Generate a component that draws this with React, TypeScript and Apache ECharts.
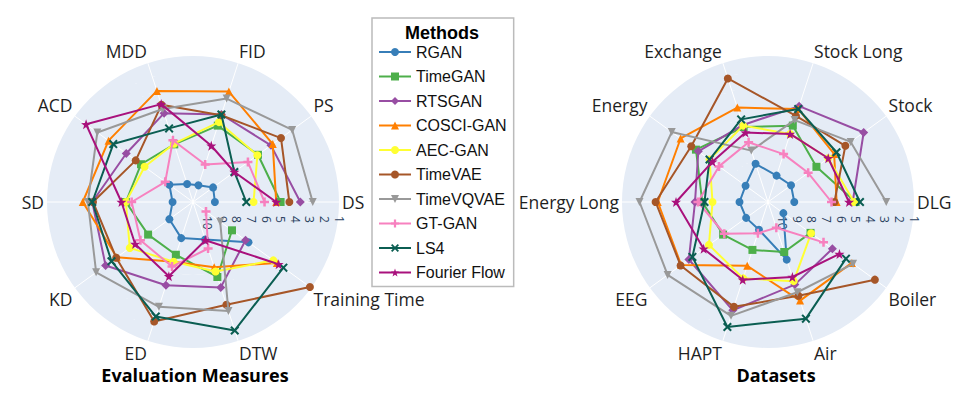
import React, { useEffect, useRef } from 'react';
import * as echarts from 'echarts';

const MEASURES = ['DS', 'PS', 'FID', 'MDD', 'ACD', 'SD', 'KD', 'ED', 'DTW', 'Training Time'];
const DATASETS = ['DLG', 'Stock', 'Stock Long', 'Exchange', 'Energy', 'Energy Long', 'EEG', 'HAPT', 'Air', 'Boiler'];
const METHODS = ['RGAN', 'TimeGAN', 'RTSGAN', 'COSCI-GAN', 'AEC-GAN', 'TimeVAE', 'TimeVQVAE', 'GT-GAN', 'LS4', 'Fourier Flow'];
const COLORS = ['#377eb8', '#4daf4a', '#984ea3', '#ff7f00', '#ffff33', '#a65628', '#999999', '#f781bf', '#0b5e52', '#a9117c'];
const RANK_TICKS = [1, 2, 3, 4, 5, 6, 7, 8, 9, 10];

// mean ranks per evaluation measure (DS ... Training Time)
const M_RGAN = [9.5, 9.3, 9.8, 9.7, 9.0, 9.6, 9.0, 8.4, 8.3, 6.3];
const M_TIMEGAN = [5.0, 5.5, 5.5, 6.85, 6.6, 6.4, 7.2, 7.2, 5.6, 7.7];
const M_RTSGAN = [3.65, 4.4, 4.7, 4.6, 5.35, 4.1, 3.6, 5.0, 4.85, 6.55];
const M_COSCI = [5.3, 4.25, 3.05, 3.0, 3.85, 3.45, 4.55, 6.7, 6.3, 3.9];
const M_AEC = [6.85, 5.55, 5.25, 6.8, 6.9, 6.4, 5.65, 6.7, 6.0, 4.2];
const M_TIMEVAE = [4.4, 3.55, 4.75, 4.0, 6.15, 4.15, 4.5, 2.4, 3.6, 1.1];
const M_TIMEVQVAE = [2.8, 2.6, 3.55, 4.3, 2.9, 3.8, 2.8, 3.45, 3.15, 8.7];
const M_GTGAN = [6.1, 6.35, 8.3, 6.55, 8.65, 6.8, 6.55, 6.35, 7.65, 9.9];
const M_LS4 = [7.35, 7.5, 4.7, 5.7, 4.25, 4.1, 4.1, 2.75, 1.75, 3.35];
const M_FOURIER = [5.3, 7.5, 6.95, 3.95, 1.95, 6.1, 6.1, 5.65, 8.25, 3.75];

// mean ranks per dataset (DLG ... Boiler)
const D_RGAN = [9.2, 9.05, 9.1, 8.25, 9.1, 9.05, 9.15, 9.0, 6.85, 9.7];
const D_TIMEGAN = [5.0, 6.9, 5.5, 5.6, 4.9, 6.5, 7.2, 7.55, 7.4, 7.4];
const D_RTSGAN = [5.2, 2.9, 4.1, 5.45, 5.1, 6.0, 4.3, 3.2, 5.05, 5.55];
const D_COSCI = [6.3, 5.4, 4.3, 4.2, 3.6, 3.45, 3.65, 6.4, 3.9, 3.9];
const D_AEC = [5.1, 5.9, 6.1, 5.5, 6.05, 7.2, 6.0, 5.5, 5.3, 7.35];
const D_TIMEVAE = [6.45, 4.45, 4.8, 2.1, 4.5, 3.3, 3.6, 3.45, 4.25, 1.95];
const D_TIMEVQVAE = [2.9, 4.0, 5.1, 7.3, 2.85, 2.2, 2.5, 2.8, 4.5, 3.8];
const D_GTGAN = [6.65, 7.6, 7.55, 6.7, 6.85, 6.2, 7.3, 8.75, 9.15, 6.3];
const D_LS4 = [4.7, 5.2, 4.3, 5.05, 6.05, 6.65, 4.6, 2.0, 2.6, 4.4];
const D_FOURIER = [5.45, 5.9, 6.1, 6.0, 6.3, 4.7, 5.55, 5.4, 5.6, 4.95];

const MEASURE_SETS = [M_RGAN, M_TIMEGAN, M_RTSGAN, M_COSCI, M_AEC, M_TIMEVAE, M_TIMEVQVAE, M_GTGAN, M_LS4, M_FOURIER];
const DATASET_SETS = [D_RGAN, D_TIMEGAN, D_RTSGAN, D_COSCI, D_AEC, D_TIMEVAE, D_TIMEVQVAE, D_GTGAN, D_LS4, D_FOURIER];

const PLUS = 'path://M3.6,0H6.4V3.6H10V6.4H6.4V10H3.6V6.4H0V3.6H3.6Z';
const XMARK = 'path://M1.6,0L5,3.4L8.4,0L10,1.6L6.6,5L10,8.4L8.4,10L5,6.6L1.6,10L0,8.4L3.4,5L0,1.6Z';
const STAR = 'path://M5,0L6.18,3.38L9.76,3.45L6.9,5.62L7.94,9.05L5,7L2.06,9.05L3.1,5.62L0.24,3.45L3.82,3.38Z';
const SYMBOLS = ['circle', 'rect', 'diamond', 'triangle', 'circle', 'circle', 'triangle', PLUS, XMARK, STAR];
const SYMBOL_ROT = [0, 0, 0, 0, 0, 0, 180, 0, 0, 0];
const SYMBOL_SIZE = [8, 8, 9, 8, 8, 8, 8, 9, 9, 10];

const FONT = "'Open Sans', 'Noto Sans', sans-serif";
const LEGEND_FONT = "'Liberation Sans', Arial, sans-serif";

function angleAxisFor(idx: number, cats: string[]) {
  return {
    polarIndex: idx,
    type: 'category',
    data: cats,
    startAngle: 0,
    clockwise: false,
    boundaryGap: false,
    axisLine: { show: false },
    axisTick: { show: false },
    splitLine: { show: true, lineStyle: { color: '#ffffff', width: 1 } },
    axisLabel: { fontSize: 17.5, color: '#1f1f1f', margin: 3, fontFamily: FONT },
  };
}

function radiusAxisFor(idx: number) {
  return {
    polarIndex: idx,
    type: 'value',
    min: 1,
    max: 11,
    interval: 1,
    inverse: true,
    axisLine: { show: false },
    axisTick: { show: false },
    splitLine: { show: true, lineStyle: { color: '#ffffff', width: 1 } },
    splitArea: { show: true, areaStyle: { color: ['#e5ecf6'] } },
    axisLabel: {
      rotate: -90,
      margin: -14,
      align: 'left',
      verticalAlign: 'middle',
      fontSize: 12,
      color: '#2a3f5f',
      fontFamily: FONT,
      formatter: (v: number) => (RANK_TICKS.includes(v) ? String(v) : ''),
    },
  };
}

function closedData(vals: number[], cats: string[]) {
  const pts: any[] = vals.map((v, i) => [v, cats[i]]);
  pts.push({ value: [vals[0], cats[0]], symbol: 'none' });
  return pts;
}

export default function App() {
  const ref = useRef<HTMLDivElement>(null);
  useEffect(() => {
    if (!ref.current) return;
    const chart = echarts.init(ref.current, undefined, { renderer: 'svg' });
    const series: any[] = [];
    METHODS.forEach((name, i) => {
      [0, 1].forEach((p) => {
        const cats = p === 0 ? MEASURES : DATASETS;
        const vals = p === 0 ? MEASURE_SETS[i] : DATASET_SETS[i];
        series.push({
          type: 'line',
          name,
          coordinateSystem: 'polar',
          polarIndex: p,
          data: closedData(vals, cats),
          symbol: SYMBOLS[i],
          symbolRotate: SYMBOL_ROT[i],
          symbolSize: SYMBOL_SIZE[i],
          showAllSymbol: true,
          color: COLORS[i],
          lineStyle: { width: 2, color: COLORS[i] },
          itemStyle: { color: COLORS[i] },
          z: 2 + i * 0.01,
        });
      });
    });
    chart.setOption({
      animation: false,
      backgroundColor: '#ffffff',
      polar: [
        { center: [193, 202], radius: 146 },
        { center: [768, 202], radius: 146 },
      ],
      angleAxis: [angleAxisFor(0, MEASURES), angleAxisFor(1, DATASETS)],
      radiusAxis: [radiusAxisFor(0), radiusAxisFor(1)],
      legend: {
        orient: 'vertical',
        left: 372,
        top: 18,
        data: METHODS,
        itemWidth: 32,
        itemHeight: 10,
        itemGap: 8.5,
        padding: [26, 7, 6, 6],
        borderColor: '#bbbbbb',
        borderWidth: 1.5,
        backgroundColor: '#ffffff',
        textStyle: { fontSize: 16, color: '#111', fontFamily: LEGEND_FONT },
      },
      graphic: [
        {
          type: 'text', x: 442, y: 33, z: 100,
          style: { text: 'Methods', font: `bold 18px ${LEGEND_FONT}`, fill: '#000', align: 'center', verticalAlign: 'middle' },
        },
        {
          type: 'text', x: 195, y: 375, z: 100,
          style: { text: 'Evaluation Measures', font: `bold 18px ${FONT}`, fill: '#000', align: 'center', verticalAlign: 'middle' },
        },
        {
          type: 'text', x: 776, y: 375, z: 100,
          style: { text: 'Datasets', font: `bold 18px ${FONT}`, fill: '#000', align: 'center', verticalAlign: 'middle' },
        },
      ],
      series,
    });
    return () => chart.dispose();
  }, []);
  return <div ref={ref} style={{ position: 'fixed', left: 0, top: 0, width: 975, height: 395 }} />;
}
